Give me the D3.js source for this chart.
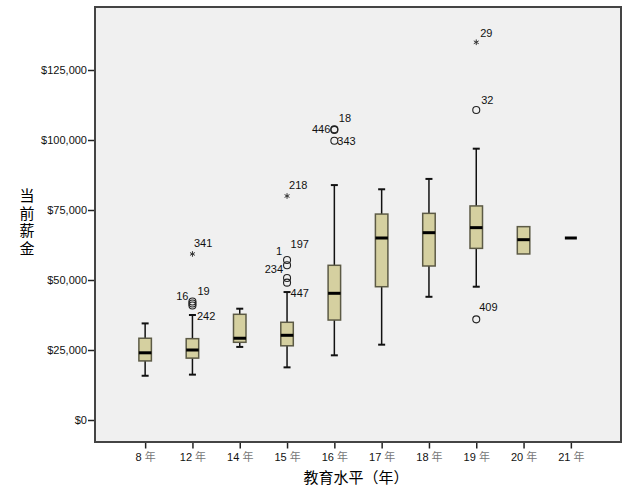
<!DOCTYPE html>
<html>
<head>
<meta charset="utf-8">
<script src="https://cdn.jsdelivr.net/npm/d3@7/dist/d3.min.js"></script>
<style>
  body { margin: 0; background: #fff; }
  svg text { font-family: "Liberation Sans", Arial, sans-serif; }
</style>
</head>
<body>
<div id="chart"></div>
<script>
// education level categories and salary box stats
var categories = ["8", "12", "14", "15", "16", "17", "18", "19", "20", "21"];
var whiskerLo = [15800, 16200, 26100, 18800, 23100, 26900, 44000, 47600, 59300, 65000];
var q1        = [21100, 22100, 27750, 26500, 35700, 47600, 55000, 61300, 59300, 65000];
var medians   = [24000, 25000, 29200, 30250, 45250, 65000, 66900, 68700, 64400, 65000];
var q3        = [29200, 29050, 37750, 34900, 55250, 73550, 73800, 76450, 69050, 65000];
var whiskerHi = [34500, 37500, 39750, 45700, 83900, 82400, 86100, 96900, 69050, 65000];

// outliers: [category, value, kind, case id]
var outliers = [
    ["12", 59300, "star", "341"],
    ["12", 42300, "circle", "16"],
    ["12", 41600, "circle", "19"],
    ["12", 40900, "circle", "242"],
    ["15", 80000, "star", "218"],
    ["15", 57150, "circle", "1"],
    ["15", 55250, "circle", "197"],
    ["15", 50700, "circle", "234"],
    ["15", 49050, "circle", "447"],
    ["16", 103800, "circle", "446"],
    ["16", 103600, "circle", "18"],
    ["16", 99750, "circle", "343"],
    ["19", 134900, "star", "29"],
    ["19", 110700, "circle", "32"],
    ["19", 35950, "circle", "409"]
];
var yTicks = [0, 25000, 50000, 75000, 100000, 125000];

// label placement next to each marker (dx, dy, anchor)
var labelPos = {
    "341": [1.5, -10.5, "start"], "16": [-4, -5.5, "end"], "19": [5, -12.5, "start"],
    "242": [4.5, 11, "start"], "218": [2, -11, "start"], "1": [-5, -8.5, "end"],
    "197": [3.5, -21, "start"], "234": [-4, -8.5, "end"], "447": [3.5, 10.5, "start"],
    "446": [-4, 0, "end"], "18": [4.5, -11.5, "start"], "343": [3, 0, "start"],
    "29": [4, -9, "start"], "32": [5, -9.5, "start"], "409": [3, -12, "start"]
};

var W = 629, H = 504;
var plot = { left: 95, right: 621, top: 7, bottom: 442 };
var boxW = 12.5, capW = 7;

var svg = d3.select("#chart").append("svg")
    .attr("width", W)
    .attr("height", H);

var x = d3.scalePoint()
    .domain(categories)
    .range([plot.left, plot.right])
    .padding(1.06);

var y = d3.scaleLinear()
    .domain([-7857, 147500])
    .range([plot.bottom, plot.top]);

svg.append("rect")
    .attr("x", plot.left)
    .attr("y", plot.top)
    .attr("width", plot.right - plot.left)
    .attr("height", plot.bottom - plot.top)
    .attr("fill", "#f0f0f0");

// y axis
var yAxis = svg.append("g")
    .attr("transform", "translate(" + plot.left + ",0)")
    .call(d3.axisLeft(y).tickValues(yTicks).tickSize(7).tickPadding(1).tickFormat(d3.format("$,")));
yAxis.select(".domain").remove();
yAxis.selectAll("line").attr("stroke", "#222").attr("stroke-width", 1.5);
yAxis.selectAll("text").attr("font-size", 11).attr("fill", "#111");

// x axis
var xAxis = svg.append("g")
    .attr("transform", "translate(0," + plot.bottom + ")")
    .call(d3.axisBottom(x).tickSize(6.5).tickFormat(""));
xAxis.select(".domain").remove();
xAxis.selectAll("line").attr("stroke", "#222").attr("stroke-width", 1.5);
xAxis.selectAll(".tick").append("text")
    .attr("y", 18.5)
    .attr("text-anchor", "middle")
    .attr("font-size", 11)
    .each(function (d) {
        var t = d3.select(this);
        t.append("tspan").attr("fill", "#111").text(d + " ");
        t.append("tspan").attr("fill", "#777")
            .style("font-family", "'Noto Sans CJK SC', sans-serif").text("年");
    });

// boxes
var g = svg.append("g");
categories.forEach(function (c, i) {
    var cx = x(c);
    if (q3[i] - q1[i] < 1) {
        g.append("line")
            .attr("x1", cx - 6).attr("x2", cx + 6)
            .attr("y1", y(medians[i])).attr("y2", y(medians[i]))
            .attr("stroke", "#000").attr("stroke-width", 3);
        return;
    }
    // whiskers
    [[whiskerHi[i], q3[i]], [whiskerLo[i], q1[i]]].forEach(function (w) {
        if (Math.abs(w[0] - w[1]) < 1) return;
        g.append("line")
            .attr("x1", cx).attr("x2", cx)
            .attr("y1", y(w[0])).attr("y2", y(w[1]))
            .attr("stroke", "#111").attr("stroke-width", 1.5);
        g.append("line")
            .attr("x1", cx - capW / 2).attr("x2", cx + capW / 2)
            .attr("y1", y(w[0])).attr("y2", y(w[0]))
            .attr("stroke", "#111").attr("stroke-width", 2);
    });
    g.append("rect")
        .attr("x", cx - boxW / 2)
        .attr("y", y(q3[i]))
        .attr("width", boxW)
        .attr("height", y(q1[i]) - y(q3[i]))
        .attr("fill", "#d5d0a0")
        .attr("stroke", "#5c5a45")
        .attr("stroke-width", 1.5);
    g.append("line")
        .attr("x1", cx - boxW / 2).attr("x2", cx + boxW / 2)
        .attr("y1", y(medians[i])).attr("y2", y(medians[i]))
        .attr("stroke", "#000").attr("stroke-width", 3);
});

// outliers
var star = d3.symbol().type(d3.symbolAsterisk).size(22);
outliers.forEach(function (o) {
    var cx = x(o[0]), cy = y(o[1]);
    if (o[2] === "circle") {
        g.append("circle")
            .attr("cx", cx).attr("cy", cy).attr("r", 3.5)
            .attr("fill", "none").attr("stroke", "#222").attr("stroke-width", 1.1);
    } else {
        g.append("path")
            .attr("d", star())
            .attr("transform", "translate(" + cx + "," + cy + ")")
            .attr("fill", "none").attr("stroke", "#333").attr("stroke-width", 1);
    }
    var p = labelPos[o[3]];
    g.append("text")
        .attr("x", cx + p[0])
        .attr("y", cy + p[1])
        .attr("dy", "0.35em")
        .attr("text-anchor", p[2])
        .attr("font-size", 11)
        .attr("fill", "#111")
        .text(o[3]);
});

// frame
svg.append("rect")
    .attr("x", plot.left)
    .attr("y", plot.top)
    .attr("width", plot.right - plot.left)
    .attr("height", plot.bottom - plot.top)
    .attr("fill", "none")
    .attr("stroke", "#444")
    .attr("stroke-width", 2);

// axis titles
svg.append("text")
    .attr("x", 356)
    .attr("y", 478)
    .attr("dy", "0.35em")
    .attr("text-anchor", "middle")
    .attr("font-size", 15)
    .style("font-family", "'Noto Sans CJK SC', sans-serif")
    .text("教育水平（年）");

// vertical y title, one text element
svg.append("text")
    .attr("x", 27)
    .attr("y", 223)
    .attr("text-anchor", "middle")
    .attr("font-size", 15)
    .style("writing-mode", "vertical-rl")
    .style("text-orientation", "upright")
    .style("letter-spacing", "2.5px")
    .style("font-family", "'Noto Sans CJK SC', sans-serif")
    .text("当前薪金");
</script>
</body>
</html>
